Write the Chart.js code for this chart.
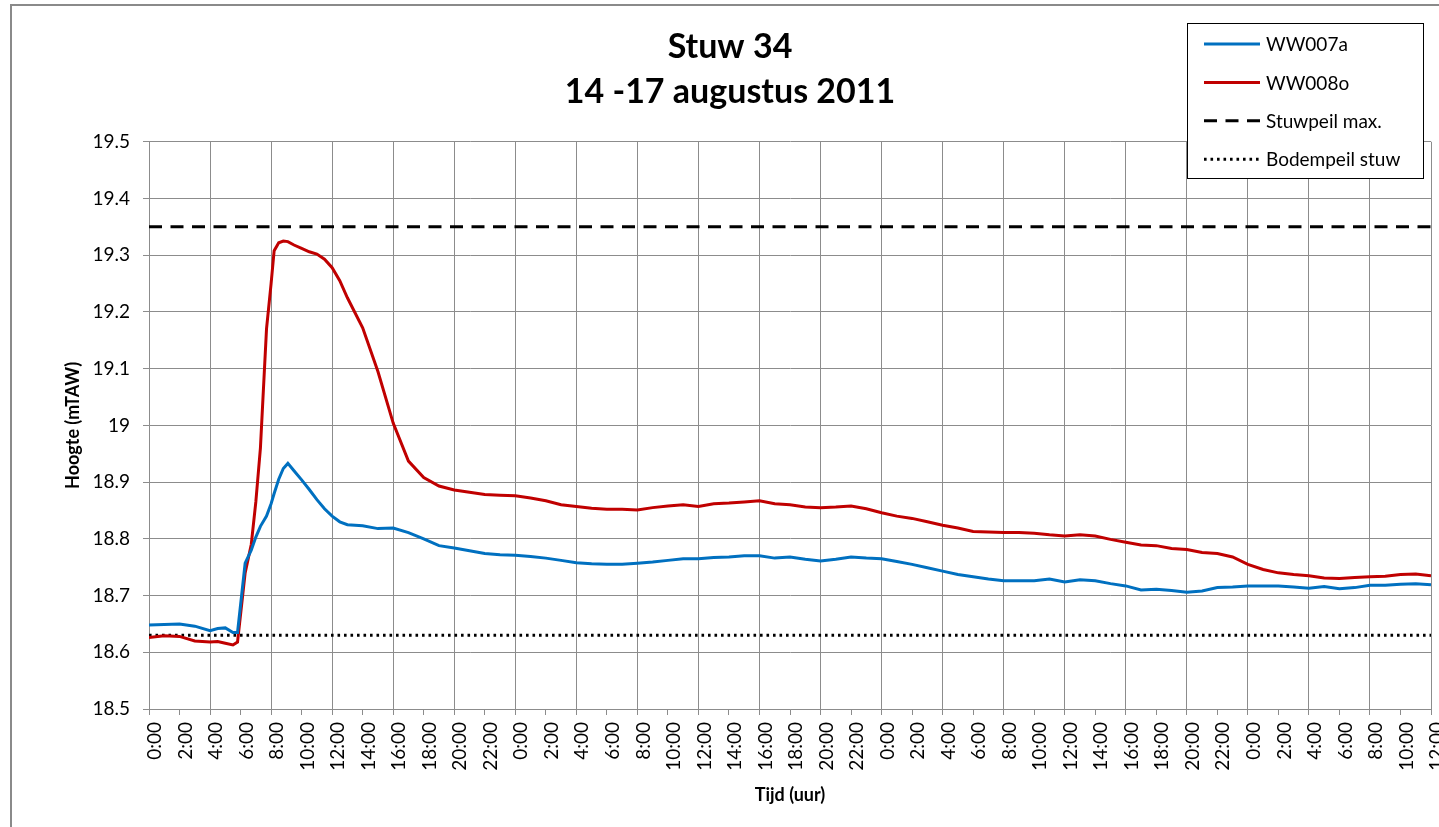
<!DOCTYPE html>
<html><head><meta charset="utf-8">
<script src="https://cdn.jsdelivr.net/npm/chart.js@4.4.0/dist/chart.umd.min.js"></script>
<style>
html,body{margin:0;padding:0;background:#fff;overflow:hidden;}
#wrap{position:relative;width:1439px;height:827px;overflow:hidden;}
canvas{position:absolute;left:0;top:0;}
#frame{position:absolute;left:10px;top:4px;width:1500px;height:900px;border:2px solid #8a8a8a;box-sizing:border-box;pointer-events:none;}
</style></head><body>
<div id="wrap"><canvas id="c" width="1439" height="827"></canvas><div id="frame"></div></div>
<script>
// ---- data ----
const hours = [0,1,2,3,4,4.5,5,5.5,5.8,6.3,6.7,7,7.3,7.7,8,8.2,8.5,8.8,9.1,9.5,10,10.5,11,11.5,12,12.5,13,
  14,15,16,17,18,19,20,21,22,23,24,25,26,27,28,29,30,31,32,33,34,35,36,37,38,39,40,41,42,43,44,45,46,47,48,49,
  50,51,52,53,54,55,56,57,58,59,60,61,62,63,64,65,66,67,68,69,70,71,72,73,74,75,76,77,78,79,80,81,82,83,84];
const ww007a = [18.648,18.649,18.650,18.646,18.638,18.642,18.643,18.635,18.635,18.757,18.780,18.803,18.822,18.840,18.862,18.880,18.905,18.924,18.933,18.920,18.904,18.887,18.869,18.853,18.840,18.830,18.825,
  18.823,18.818,18.819,18.811,18.800,18.788,18.784,18.779,18.774,18.772,18.771,18.769,18.766,18.762,18.758,18.756,18.755,18.755,18.757,18.759,18.762,18.765,18.765,18.767,18.768,18.770,18.770,18.766,18.768,18.764,18.761,18.764,18.768,18.766,18.765,18.760,
  18.755,18.749,18.743,18.737,18.733,18.729,18.726,18.726,18.726,18.729,18.724,18.728,18.726,18.721,18.717,18.710,18.711,18.709,18.706,18.708,18.714,18.715,18.717,18.717,18.717,18.715,18.713,18.716,18.712,18.714,18.718,18.718,18.720,18.721,18.719];
const ww008o = [18.626,18.629,18.628,18.620,18.618,18.619,18.616,18.613,18.618,18.740,18.790,18.865,18.960,19.170,19.250,19.308,19.322,19.325,19.324,19.318,19.312,19.306,19.302,19.293,19.278,19.255,19.225,
  19.172,19.095,19.004,18.937,18.908,18.893,18.886,18.882,18.878,18.877,18.876,18.872,18.867,18.860,18.857,18.854,18.852,18.852,18.851,18.855,18.858,18.860,18.857,18.862,18.863,18.865,18.867,18.862,18.860,18.856,18.855,18.856,18.858,18.853,18.846,18.840,
  18.836,18.830,18.824,18.819,18.813,18.812,18.811,18.811,18.810,18.807,18.805,18.807,18.805,18.799,18.794,18.789,18.788,18.783,18.781,18.776,18.774,18.768,18.755,18.746,18.740,18.737,18.735,18.731,18.730,18.732,18.733,18.734,18.737,18.738,18.735];
const stuwpeilMax = 19.35;
const bodempeilStuw = 18.63;
const seriesLabels = ['WW007a','WW008o','Stuwpeil max.','Bodempeil stuw'];
const xTickLabels = ['0:00','2:00','4:00','6:00','8:00','10:00','12:00','14:00','16:00','18:00','20:00','22:00',
  '0:00','2:00','4:00','6:00','8:00','10:00','12:00','14:00','16:00','18:00','20:00','22:00',
  '0:00','2:00','4:00','6:00','8:00','10:00','12:00','14:00','16:00','18:00','20:00','22:00',
  '0:00','2:00','4:00','6:00','8:00','10:00','12:00'];
const yTickLabels = ['18.5','18.6','18.7','18.8','18.9','19','19.1','19.2','19.3','19.4','19.5'];
const titleLines = ['Stuw 34','14 -17 augustus 2011'];
const xTitle = 'Tijd (uur)';
const yTitle = 'Hoogte (mTAW)';

// ---- chart ----
const FONT = 'Lato';
const GRID = '#8c8c8c';
const xMax = hours[hours.length-1];
const pts = arr => hours.map((h,i)=>({x:h,y:arr[i]}));

const boxLegend = {
  id:'boxLegend',
  afterDraw(chart){
    const ctx = chart.ctx;
    const x=1187, y=23, w=236, h=155;
    ctx.save();
    ctx.fillStyle='#fff'; ctx.fillRect(x,y,w,h);
    ctx.strokeStyle='#000'; ctx.lineWidth=1; ctx.setLineDash([]);
    ctx.strokeRect(x+0.5,y+0.5,w,h);
    chart.data.datasets.forEach((ds,i)=>{
      const yy = y+21+i*38.4;
      ctx.beginPath();
      ctx.setLineDash(ds.borderDash||[]);
      ctx.strokeStyle=ds.borderColor; ctx.lineWidth=ds.borderWidth;
      ctx.moveTo(x+17,yy); ctx.lineTo(x+73,yy); ctx.stroke();
      ctx.setLineDash([]);
      ctx.fillStyle='#000'; ctx.font='19px '+FONT; ctx.textBaseline='middle'; ctx.textAlign='left';
      ctx.fillText(ds.label,x+79,yy+1);
    });
    ctx.restore();
  }
};

new Chart(document.getElementById('c'), {
  type:'line',
  data:{datasets:[
    {label:seriesLabels[0], data:pts(ww007a), borderColor:'#0070C0', borderWidth:3, pointRadius:0, tension:0},
    {label:seriesLabels[1], data:pts(ww008o), borderColor:'#C00000', borderWidth:3, pointRadius:0, tension:0},
    {label:seriesLabels[2], data:[{x:0,y:stuwpeilMax},{x:xMax,y:stuwpeilMax}], borderColor:'#000', borderWidth:3, borderDash:[13,8.5], pointRadius:0},
    {label:seriesLabels[3], data:[{x:0,y:bodempeilStuw},{x:xMax,y:bodempeilStuw}], borderColor:'#000', borderWidth:3, borderDash:[2.6,3.9], pointRadius:0}
  ]},
  options:{
    responsive:false, animation:false, devicePixelRatio:1,
    layout:{padding:{left:29,right:8,top:0,bottom:17}},
    plugins:{
      legend:{display:false}, tooltip:{enabled:false},
      title:{display:true, text:titleLines, color:'#000', font:{family:FONT,size:34,weight:'bold',lineHeight:1.32}, padding:{top:25,bottom:27}}
    },
    scales:{
      x:{type:'linear', min:0, max:xMax,
        afterFit(s){ s.height=101; s.paddingLeft=0; s.paddingRight=0; },
        grid:{color:c=> (c.tick && c.tick.value%4===0) ? GRID : 'rgba(0,0,0,0)', tickColor:GRID, tickLength:6, lineWidth:1},
        border:{color:GRID, width:1},
        ticks:{stepSize:2, autoSkip:false, minRotation:90, maxRotation:90, color:'#000', padding:7, labelOffset:6,
          font:{family:FONT,size:19}, callback:(v,i)=>xTickLabels[i]},
        title:{display:true, text:xTitle, color:'#000', font:{family:FONT,size:18,weight:'bold'}, padding:{top:4,bottom:4}}
      },
      y:{type:'linear', min:18.5, max:19.5,
        afterFit(s){ s.width=120; s.paddingTop=0; s.paddingBottom=0; },
        grid:{color:GRID, tickColor:GRID, tickLength:6, lineWidth:1},
        border:{color:GRID, width:1},
        ticks:{stepSize:0.1, color:'#000', padding:13, font:{family:FONT,size:19}, callback:(v,i)=>yTickLabels[i]},
        title:{display:true, text:yTitle, color:'#000', font:{family:FONT,size:18,weight:'bold'}, padding:{top:33,bottom:0}}
      }
    }
  },
  plugins:[boxLegend]
});
</script>
</body></html>
